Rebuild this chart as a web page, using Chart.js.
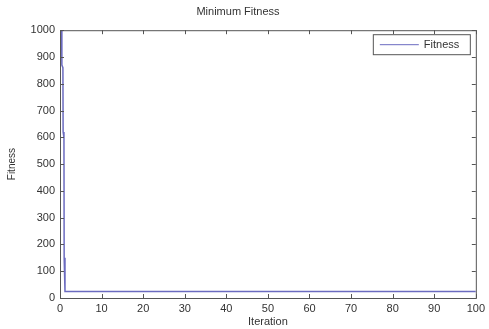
<!DOCTYPE html>
<html>
<head>
<meta charset="utf-8">
<script src="https://cdn.jsdelivr.net/npm/chart.js@4"></script>
<style>
  html, body { margin: 0; padding: 0; background: #fff; }
  #wrap { width: 489px; height: 329px; }
</style>
</head>
<body>
<div id="wrap"><canvas id="fitnessChart" width="489" height="329"></canvas></div>
<script>
// dados
const iterations = [0.4, 0.45, 0.7, 0.75, 0.95, 1.0, 1.2, 100];
const fitness = [1000, 870, 860, 620, 600, 150, 24, 24];
const xTicks = [0, 10, 20, 30, 40, 50, 60, 70, 80, 90, 100];
const yTicks = [0, 100, 200, 300, 400, 500, 600, 700, 800, 900, 1000];

const axisColor = '#555';
const textColor = '#333';
const lineColor = '#6b6bc0';

// desenha moldura, marcas internas (estilo MATLAB) e legenda
const matlabFrame = {
  id: 'matlabFrame',
  afterDatasetsDraw(chart) {
    const { ctx, chartArea: a, scales } = chart;
    ctx.save();
    ctx.strokeStyle = axisColor;
    ctx.lineWidth = 1;
    ctx.strokeRect(a.left + 0.5, a.top + 0.5, a.right - a.left, a.bottom - a.top);
    ctx.beginPath();
    xTicks.forEach(v => {
      const x = Math.round(scales.x.getPixelForValue(v)) + 0.5;
      ctx.moveTo(x, a.bottom); ctx.lineTo(x, a.bottom - 4);
      ctx.moveTo(x, a.top); ctx.lineTo(x, a.top + 4);
    });
    yTicks.forEach(v => {
      const y = Math.round(scales.y.getPixelForValue(v)) + 0.5;
      ctx.moveTo(a.left, y); ctx.lineTo(a.left + 4, y);
      ctx.moveTo(a.right, y); ctx.lineTo(a.right - 4, y);
    });
    ctx.stroke();

    // legenda
    const lx = a.right - 103, ly = a.top + 4;
    ctx.fillStyle = '#fff';
    ctx.fillRect(lx, ly, 97, 20);
    ctx.strokeRect(lx + 0.5, ly + 0.5, 97, 20);
    ctx.strokeStyle = lineColor;
    ctx.beginPath();
    ctx.moveTo(lx + 7, ly + 10.5); ctx.lineTo(lx + 46, ly + 10.5);
    ctx.stroke();
    ctx.fillStyle = textColor;
    ctx.font = '11px "Liberation Sans", Arial, sans-serif';
    ctx.textBaseline = 'middle';
    ctx.fillText(chart.data.datasets[0].label, lx + 51, ly + 11);
    ctx.restore();
  }
};

const ctx = document.getElementById('fitnessChart').getContext('2d');
const fitnessChart = new Chart(ctx, {
  type: 'line',
  data: {
    datasets: [{
      label: 'Fitness',
      data: iterations.map((x, i) => ({ x: x, y: fitness[i] })),
      borderColor: lineColor,
      borderWidth: 1.5,
      pointRadius: 0,
      tension: 0,
      fill: false
    }]
  },
  options: {
    responsive: false,
    animation: false,
    layout: { padding: { left: 0, right: 13, top: 0, bottom: 0 } },
    plugins: {
      legend: { display: false },
      tooltip: { enabled: false },
      title: {
        display: true,
        text: 'Minimum Fitness',
        color: textColor,
        font: { family: '"Liberation Sans", Arial, sans-serif', size: 11, weight: 'normal' },
        padding: { top: 5, bottom: 12 }
      }
    },
    scales: {
      x: {
        type: 'linear',
        min: 0,
        max: 100,
        afterBuildTicks: s => { s.ticks = xTicks.map(v => ({ value: v })); },
        afterFit: s => { s.height = 31; },
        grid: { display: false, drawTicks: false },
        border: { display: false },
        ticks: {
          color: textColor,
          padding: 4,
          maxRotation: 0,
          callback: v => String(v),
          font: { family: '"Liberation Sans", Arial, sans-serif', size: 11 }
        },
        title: {
          display: true,
          text: 'Iteration',
          color: textColor,
          padding: { top: 0, bottom: 0 },
          font: { family: '"Liberation Sans", Arial, sans-serif', size: 11 }
        }
      },
      y: {
        min: 0,
        max: 1000,
        afterBuildTicks: s => { s.ticks = yTicks.map(v => ({ value: v })); },
        afterFit: s => { s.width = 60; },
        grid: { display: false, drawTicks: false },
        border: { display: false },
        ticks: {
          color: textColor,
          padding: 5,
          callback: v => String(v),
          font: { family: '"Liberation Sans", Arial, sans-serif', size: 11 }
        },
        title: {
          display: true,
          text: 'Fitness',
          color: textColor,
          padding: { top: 6, bottom: 0 },
          font: { family: '"Liberation Sans", Arial, sans-serif', size: 10 }
        }
      }
    }
  },
  plugins: [matlabFrame]
});
</script>
</body>
</html>
